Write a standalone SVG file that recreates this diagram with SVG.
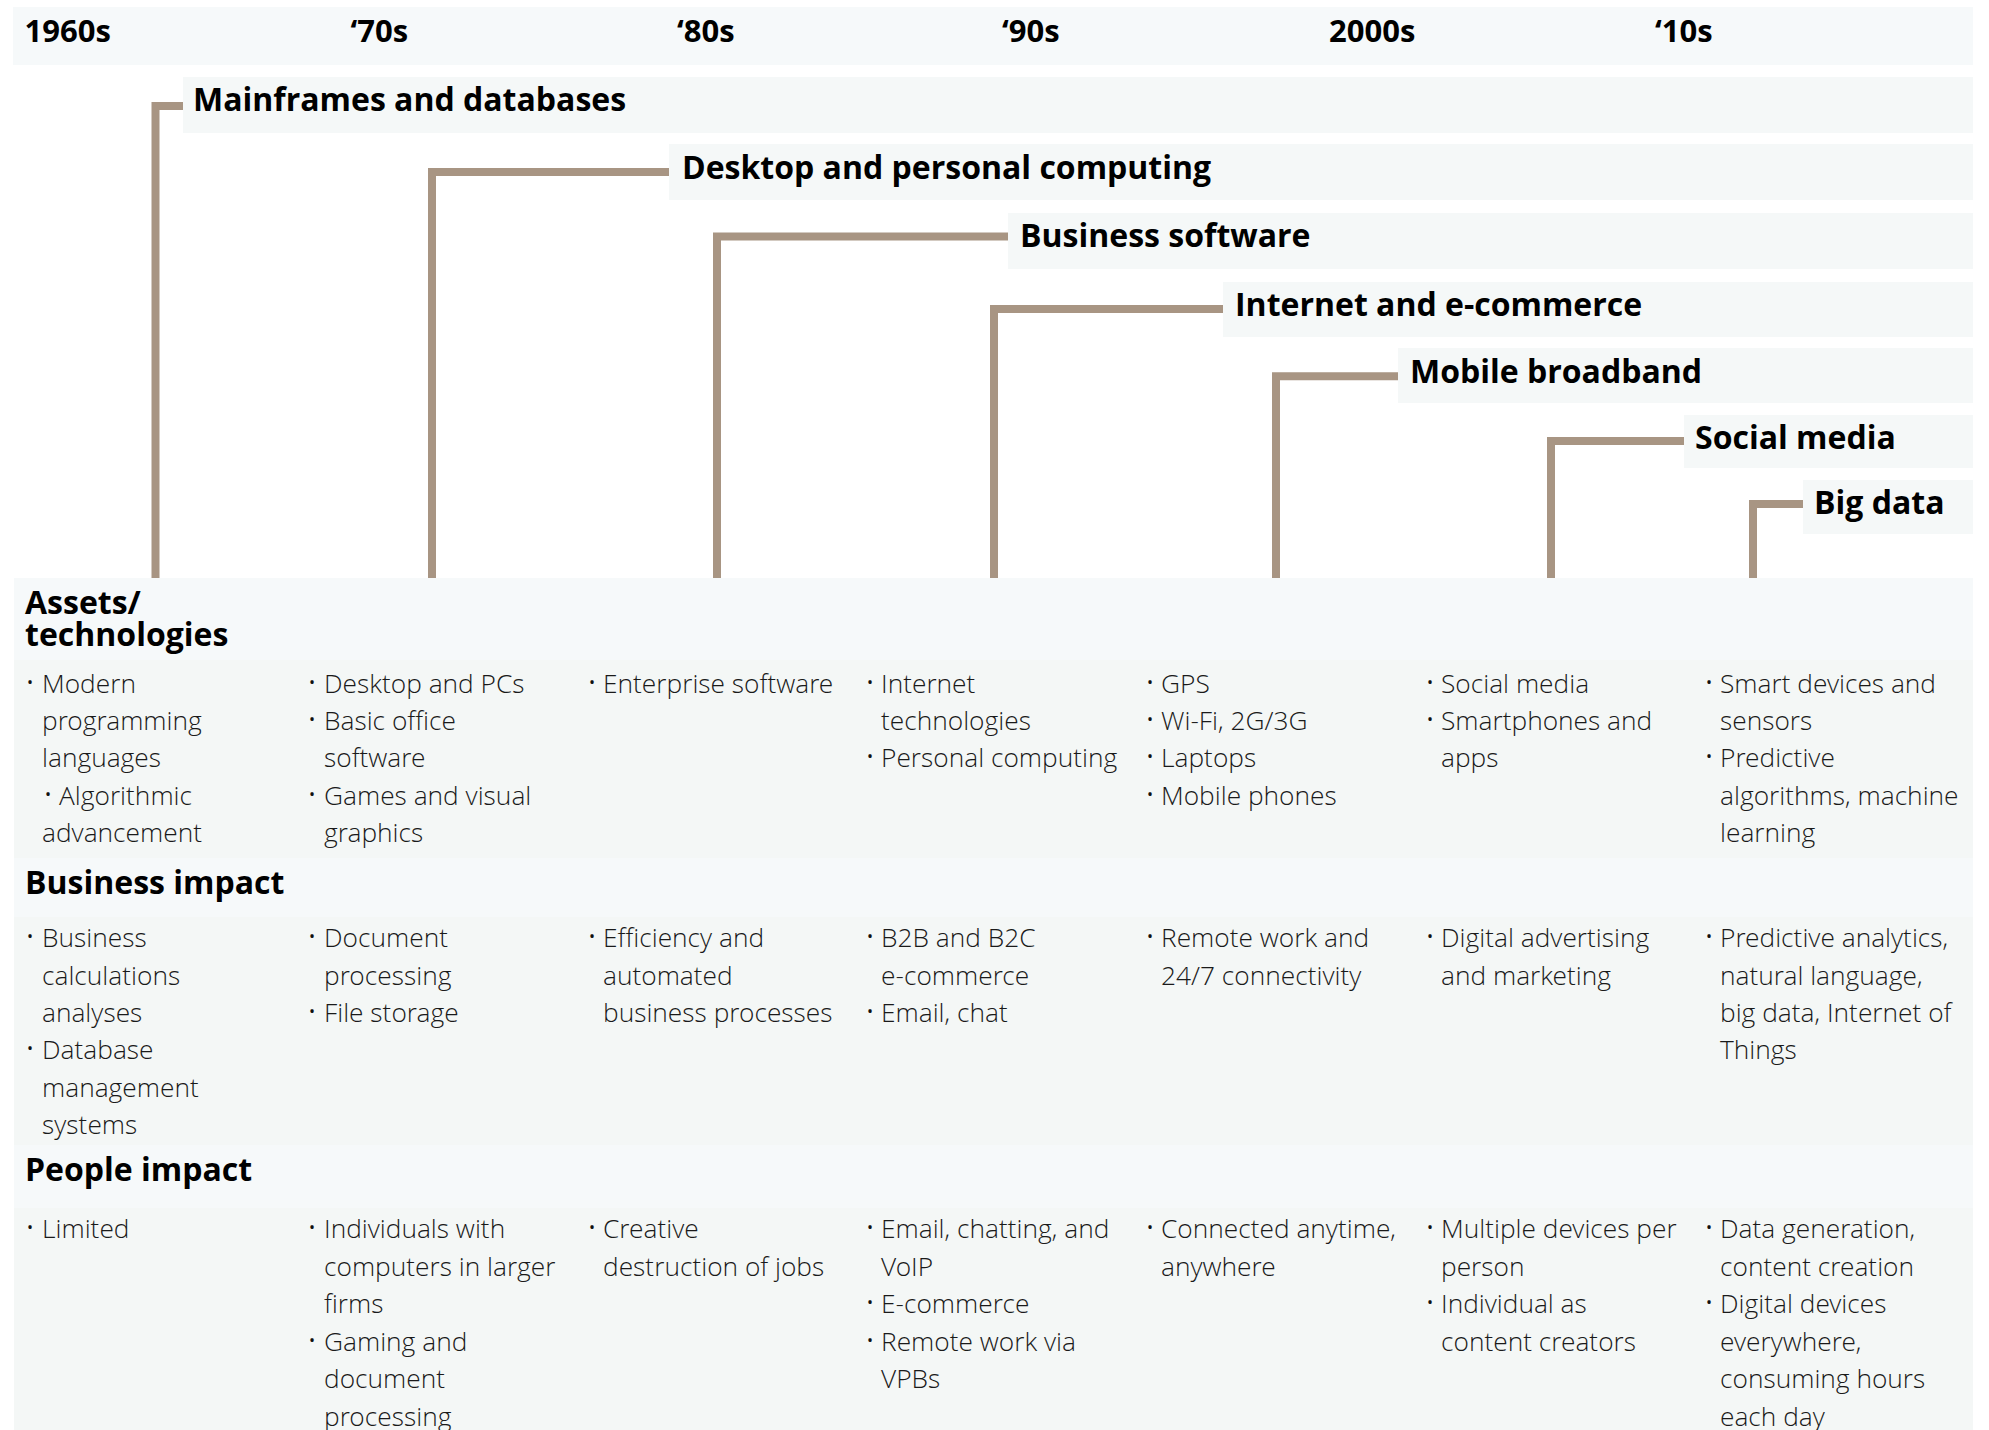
<svg xmlns="http://www.w3.org/2000/svg" width="1989" height="1430" viewBox="0 0 1989 1430">
<style>
  .bg { fill: #ffffff; }
  .band { fill: #f5f8f8; }
  .hdr { fill: #f6f9fa; }
  .cnt { fill: #f4f7f6; }
  .dec { font-family: "Open Sans", "Liberation Sans", sans-serif; font-weight: 700; font-size: 31px; fill: #000; }
  .title { font-family: "Open Sans", "Liberation Sans", sans-serif; font-weight: 700; font-size: 32px; fill: #000; }
  .body { font-family: "Open Sans Light", "Open Sans", "Liberation Sans", sans-serif; font-weight: 300; font-size: 26.3px; fill: #1a1a1a; }
  .bul { font-family: "Open Sans", "Liberation Sans", sans-serif; font-weight: 400; font-size: 16px; fill: #111; }
  .conn { fill: none; stroke: #a89583; stroke-width: 8; stroke-linejoin: miter; stroke-linecap: butt; }
</style>
<rect class="bg" x="0" y="0" width="1989" height="1430"/>

<g id="decades">
  <rect class="hdr" x="13" y="7" width="1960" height="58"/>
  <text class="dec" x="24.5" y="42">1960s</text>
  <text class="dec" x="350.5" y="42">‘70s</text>
  <text class="dec" x="677" y="42">‘80s</text>
  <text class="dec" x="1002" y="42">‘90s</text>
  <text class="dec" x="1329" y="42">2000s</text>
  <text class="dec" x="1655" y="42">‘10s</text>
</g>

<g id="connectors">
  <polyline class="conn" points="155.5,578 155.5,106 183,106"/>
  <polyline class="conn" points="432,578 432,172 669,172"/>
  <polyline class="conn" points="717,578 717,236.5 1008,236.5"/>
  <polyline class="conn" points="994,578 994,309 1223,309"/>
  <polyline class="conn" points="1276,578 1276,376.3 1398,376.3"/>
  <polyline class="conn" points="1551,578 1551,441 1684,441"/>
  <polyline class="conn" points="1753,578 1753,504 1803,504"/>
</g>

<g id="mainframes">
  <rect class="band" x="183" y="77" width="1790" height="56"/>
  <text class="title" x="193" y="111">Mainframes and databases</text>
</g>
<g id="desktop">
  <rect class="band" x="669" y="144" width="1304" height="56"/>
  <text class="title" x="682" y="179">Desktop and personal computing</text>
</g>
<g id="business-software">
  <rect class="band" x="1008" y="213" width="965" height="56"/>
  <text class="title" x="1020" y="247">Business software</text>
</g>
<g id="internet">
  <rect class="band" x="1223" y="282" width="750" height="55"/>
  <text class="title" x="1235" y="316">Internet and e-commerce</text>
</g>
<g id="mobile">
  <rect class="band" x="1398" y="348" width="575" height="55"/>
  <text class="title" x="1410" y="383">Mobile broadband</text>
</g>
<g id="social">
  <rect class="band" x="1684" y="415" width="289" height="53"/>
  <text class="title" x="1695" y="449">Social media</text>
</g>
<g id="bigdata">
  <rect class="band" x="1803" y="480" width="170" height="54"/>
  <text class="title" x="1814" y="514">Big data</text>
</g>

<g id="assets">
  <rect class="hdr" x="14" y="578" width="1959" height="82"/>
  <rect class="cnt" x="14" y="660" width="1959" height="198"/>
  <text class="title" x="25" y="614">Assets/</text>
  <text class="title" x="25" y="646">technologies</text>
  <g class="body">
    <text x="42" y="693">Modern</text>
    <text x="42" y="730">programming</text>
    <text x="42" y="767">languages</text>
    <text x="59" y="805">Algorithmic</text>
    <text x="42" y="842">advancement</text>

    <text x="324" y="693">Desktop and PCs</text>
    <text x="324" y="730">Basic office</text>
    <text x="324" y="767">software</text>
    <text x="324" y="805">Games and visual</text>
    <text x="324" y="842">graphics</text>

    <text x="603" y="693">Enterprise software</text>

    <text x="881" y="693">Internet</text>
    <text x="881" y="730">technologies</text>
    <text x="881" y="767">Personal computing</text>

    <text x="1161" y="693">GPS</text>
    <text x="1161" y="730">Wi-Fi, 2G/3G</text>
    <text x="1161" y="767">Laptops</text>
    <text x="1161" y="805">Mobile phones</text>

    <text x="1441" y="693">Social media</text>
    <text x="1441" y="730">Smartphones and</text>
    <text x="1441" y="767">apps</text>

    <text x="1720" y="693">Smart devices and</text>
    <text x="1720" y="730">sensors</text>
    <text x="1720" y="767">Predictive</text>
    <text x="1720" y="805">algorithms, machine</text>
    <text x="1720" y="842">learning</text>
  </g>
  <g class="bul">
    <text x="27" y="688">•</text>
    <text x="45" y="800">•</text>
    <text x="309" y="688">•</text>
    <text x="309" y="725">•</text>
    <text x="309" y="800">•</text>
    <text x="589" y="688">•</text>
    <text x="867" y="688">•</text>
    <text x="867" y="762">•</text>
    <text x="1147" y="688">•</text>
    <text x="1147" y="725">•</text>
    <text x="1147" y="762">•</text>
    <text x="1147" y="800">•</text>
    <text x="1427" y="688">•</text>
    <text x="1427" y="725">•</text>
    <text x="1706" y="688">•</text>
    <text x="1706" y="762">•</text>
  </g>
</g>

<g id="business-impact">
  <rect class="hdr" x="14" y="858" width="1959" height="59"/>
  <rect class="cnt" x="14" y="917" width="1959" height="228"/>
  <text class="title" x="25" y="894">Business impact</text>
  <g class="body">
    <text x="42" y="947">Business</text>
    <text x="42" y="985">calculations</text>
    <text x="42" y="1022">analyses</text>
    <text x="42" y="1059">Database</text>
    <text x="42" y="1097">management</text>
    <text x="42" y="1134">systems</text>

    <text x="324" y="947">Document</text>
    <text x="324" y="985">processing</text>
    <text x="324" y="1022">File storage</text>

    <text x="603" y="947">Efficiency and</text>
    <text x="603" y="985">automated</text>
    <text x="603" y="1022">business processes</text>

    <text x="881" y="947">B2B and B2C</text>
    <text x="881" y="985">e-commerce</text>
    <text x="881" y="1022">Email, chat</text>

    <text x="1161" y="947">Remote work and</text>
    <text x="1161" y="985">24/7 connectivity</text>

    <text x="1441" y="947">Digital advertising</text>
    <text x="1441" y="985">and marketing</text>

    <text x="1720" y="947">Predictive analytics,</text>
    <text x="1720" y="985">natural language,</text>
    <text x="1720" y="1022">big data, Internet of</text>
    <text x="1720" y="1059">Things</text>
  </g>
  <g class="bul">
    <text x="27" y="942">•</text>
    <text x="27" y="1054">•</text>
    <text x="309" y="942">•</text>
    <text x="309" y="1017">•</text>
    <text x="589" y="942">•</text>
    <text x="867" y="942">•</text>
    <text x="867" y="1017">•</text>
    <text x="1147" y="942">•</text>
    <text x="1427" y="942">•</text>
    <text x="1706" y="942">•</text>
  </g>
</g>

<g id="people-impact">
  <rect class="hdr" x="14" y="1145" width="1959" height="63"/>
  <rect class="cnt" x="14" y="1208" width="1959" height="222"/>
  <text class="title" x="25" y="1181">People impact</text>
  <g class="body">
    <text x="42" y="1238">Limited</text>

    <text x="324" y="1238">Individuals with</text>
    <text x="324" y="1276">computers in larger</text>
    <text x="324" y="1313">firms</text>
    <text x="324" y="1351">Gaming and</text>
    <text x="324" y="1388">document</text>
    <text x="324" y="1426">processing</text>

    <text x="603" y="1238">Creative</text>
    <text x="603" y="1276">destruction of jobs</text>

    <text x="881" y="1238">Email, chatting, and</text>
    <text x="881" y="1276">VoIP</text>
    <text x="881" y="1313">E-commerce</text>
    <text x="881" y="1351">Remote work via</text>
    <text x="881" y="1388">VPBs</text>

    <text x="1161" y="1238">Connected anytime,</text>
    <text x="1161" y="1276">anywhere</text>

    <text x="1441" y="1238">Multiple devices per</text>
    <text x="1441" y="1276">person</text>
    <text x="1441" y="1313">Individual as</text>
    <text x="1441" y="1351">content creators</text>

    <text x="1720" y="1238">Data generation,</text>
    <text x="1720" y="1276">content creation</text>
    <text x="1720" y="1313">Digital devices</text>
    <text x="1720" y="1351">everywhere,</text>
    <text x="1720" y="1388">consuming hours</text>
    <text x="1720" y="1426">each day</text>
  </g>
  <g class="bul">
    <text x="27" y="1233">•</text>
    <text x="309" y="1233">•</text>
    <text x="309" y="1346">•</text>
    <text x="589" y="1233">•</text>
    <text x="867" y="1233">•</text>
    <text x="867" y="1308">•</text>
    <text x="867" y="1346">•</text>
    <text x="1147" y="1233">•</text>
    <text x="1427" y="1233">•</text>
    <text x="1427" y="1308">•</text>
    <text x="1706" y="1233">•</text>
    <text x="1706" y="1308">•</text>
  </g>
</g>
</svg>
